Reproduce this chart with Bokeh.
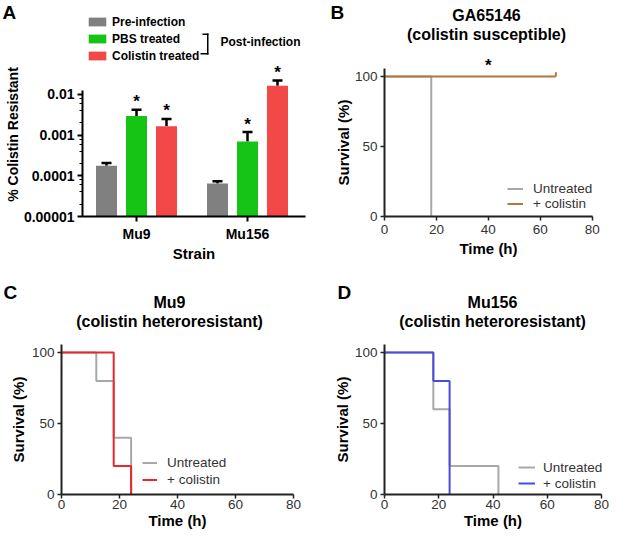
import math
from bokeh.plotting import figure
from bokeh.models import (Range1d, FixedTicker, NumeralTickFormatter, LogTicker, Label, Legend,
                          LegendItem, Whisker, TeeHead, ColumnDataSource, BoxAnnotation)
from bokeh.layouts import column, row
from bokeh.embed import file_html
from bokeh.resources import INLINE
from bokeh.core.properties import value

FONT = "Liberation Sans"

# ---------------- data ----------------
# Panel A: % colistin resistant (log scale)
strains = ["Mu9", "Mu156"]
group_names = ["Pre-infection", "PBS treated", "Colistin treated"]
pre_infection = [1.76e-4, 6.5e-5]
pbs_treated = [2.93e-3, 7.0e-4]
colistin_treated = [1.64e-3, 1.64e-2]
pre_infection_upper = [2.07e-4, 7.3e-5]
pbs_treated_upper = [4.2e-3, 1.19e-3]
colistin_treated_upper = [2.5e-3, 2.2e-2]
pre_infection_sig = [False, False]
pbs_treated_sig = [True, True]
colistin_treated_sig = [True, True]
bar_colors = ["#808080", "#16c416", "#f24848"]

# Panels B-D: Kaplan-Meier survival
time_ticks = [0, 20, 40, 60, 80]
survival_ticks = [0, 50, 100]
legend_labels = ["Untreated", "+ colistin"]

b_untreated_t = [0, 18]
b_untreated_s = [100, 0]
b_colistin_t = [0, 66]
b_colistin_s = [100, 100]
b_colistin_censored = [66]

c_untreated_t = [0, 12, 18, 24]
c_untreated_s = [100, 80, 40, 0]
c_colistin_t = [0, 18, 24]
c_colistin_s = [100, 20, 0]

d_untreated_t = [0, 18, 24, 42]
d_untreated_s = [100, 60, 20, 0]
d_colistin_t = [0, 18, 24]
d_colistin_s = [100, 80, 0]

titles = {
    "B": ["GA65146", "(colistin susceptible)"],
    "C": ["Mu9", "(colistin heteroresistant)"],
    "D": ["Mu156", "(colistin heteroresistant)"],
}

ROW1_H, ROW2_H = 266, 268
LEFT_W, RIGHT_W = 310, 299


def add_text(p, x, y, text, size, bold=True, align="center", baseline="middle", angle=0.0, color="black"):
    p.add_layout(Label(x=x, y=y, x_units="screen", y_units="screen", text=text,
                       text_font=FONT, text_font_size=size,
                       text_font_style="bold" if bold else "normal",
                       text_align=align, text_baseline=baseline, angle=angle,
                       text_color=color))


def base_fig(width, height, x_range, y_range, y_axis_type="linear"):
    p = figure(width=width, height=height, output_backend="svg", toolbar_location=None,
               title=None, x_range=x_range, y_range=y_range, y_axis_type=y_axis_type,
               min_border_left=0, min_border_right=0, min_border_top=0, min_border_bottom=0)
    p.outline_line_color = None
    p.xgrid.grid_line_color = None
    p.ygrid.grid_line_color = None
    p.background_fill_color = "white"
    p.border_fill_color = "white"
    return p


# ---------------- Panel A ----------------
a_px_per_group = 111.0
a_axis_x = 82          # pixel position of the y axis
a_axis_y = 216         # pixel position of the x axis (from top)
a_group1_x = 136
a_x0 = 1 - a_group1_x / a_px_per_group
a_x1 = a_x0 + LEFT_W / a_px_per_group
a_px_per_decade = 40.7
a_ybase = 1e-5
a_y0 = a_ybase * 10 ** (-(ROW1_H - a_axis_y) / a_px_per_decade)
a_y1 = a_ybase * 10 ** (a_axis_y / a_px_per_decade)
pA = base_fig(LEFT_W, ROW1_H, Range1d(a_x0, a_x1), Range1d(a_y0, a_y1), "log")

bar_off = 30 / a_px_per_group
bar_w = 21 / a_px_per_group
vals = [pre_infection, pbs_treated, colistin_treated]
uppers = [pre_infection_upper, pbs_treated_upper, colistin_treated_upper]
sigs = [pre_infection_sig, pbs_treated_sig, colistin_treated_sig]
bar_renderers = []
for j, (v, u, s, c) in enumerate(zip(vals, uppers, sigs, bar_colors)):
    xs = [i + 1 + (j - 1) * bar_off for i in range(len(strains))]
    src = ColumnDataSource(dict(x=xs, top=v, upper=u))
    r = pA.vbar(x="x", top="top", bottom=a_ybase, width=bar_w, source=src,
                fill_color=c, line_color=None)
    bar_renderers.append(r)
    pA.add_layout(Whisker(source=src, base="x", lower="top", upper="upper", dimension="height",
                          line_width=2.5, line_color="black",
                          upper_head=TeeHead(size=10, line_width=2.5, line_color="black"),
                          lower_head=None))
    sx = [x for x, flag in zip(xs, s) if flag]
    sy = [y for y, flag in zip(u, s) if flag]
    if sx:
        pA.text(x=sx, y=sy, text=["*"] * len(sx), text_font=value(FONT), text_font_style="bold",
                text_font_size="17px", text_align="center", text_baseline="alphabetic",
                y_offset=-8, text_color="black")

xa = pA.xaxis[0]
xa.fixed_location = a_ybase
xa.ticker = FixedTicker(ticks=[i + 1 for i in range(len(strains))])
xa.major_label_overrides = {i + 1: s for i, s in enumerate(strains)}
a_axis_xval = a_x0 + a_axis_x / a_px_per_group
xa.bounds = (a_axis_xval, a_x0 + 305 / a_px_per_group)
xa.axis_label = "Strain"
ya = pA.yaxis[0]
ya.fixed_location = a_axis_xval
ya.ticker = LogTicker(desired_num_ticks=7)
ya.formatter = NumeralTickFormatter(format="0.[00000]")
ya.bounds = (a_ybase, a_ybase * 10 ** (126 / a_px_per_decade))
for ax in pA.axis:
    ax.axis_line_width = 2
    ax.axis_line_color = "black"
    ax.major_tick_line_width = 2
    ax.major_tick_line_color = "black"
    ax.major_tick_out = 5
    ax.major_tick_in = 0
    ax.minor_tick_out = 3
    ax.minor_tick_in = 0
    ax.minor_tick_line_color = "black"
    ax.major_label_text_font = FONT
    ax.major_label_text_font_style = "bold"
    ax.major_label_text_font_size = "14px"
    ax.major_label_text_color = "black"
    ax.major_label_standoff = 3
    ax.axis_label_text_font = FONT
    ax.axis_label_text_font_style = "bold"
    ax.axis_label_text_font_size = "15px"
    ax.axis_label_text_color = "black"
    ax.axis_label_standoff = 0
xa.major_label_standoff = 4

legA = Legend(items=[LegendItem(label=n, renderers=[r]) for n, r in zip(group_names, bar_renderers)],
              location=(86, ROW1_H - 62.5), orientation="vertical", padding=0, margin=0, spacing=3,
              glyph_width=22, glyph_height=11, label_height=14, label_standoff=4,
              label_text_font=FONT, label_text_font_style="bold", label_text_font_size="12px",
              label_text_color="black", border_line_alpha=0, background_fill_alpha=0)
pA.add_layout(legA)
# bracket grouping the post-infection entries (pixel positions from the top-left)
for l, r, t, b in [(202, 208, 33, 34.5), (206.5, 208, 33, 54), (200, 208, 52.5, 54)]:
    pA.add_layout(BoxAnnotation(left=l, right=r, top=ROW1_H - t, bottom=ROW1_H - b,
                                left_units="screen", right_units="screen",
                                top_units="screen", bottom_units="screen",
                                fill_color="black", fill_alpha=1, line_color=None))
add_text(pA, 220, ROW1_H - 41, "Post-infection", "12px", align="left")
add_text(pA, 12, ROW1_H - 134, "% Colistin Resistant", "14px", angle=math.pi / 2)
add_text(pA, 2, ROW1_H - 1.5, "A", "19px", align="left", baseline="top")


# ---------------- survival panels ----------------
def survival_panel(width, height, axis_x, axis_y, px_per_h, px_per_pct,
                   curves, colors, leg_x, leg_bottom, leg_glyph_w, leg_row_h, leg_standoff,
                   title_lines, title_x, title_ys, letter, letter_x, letter_top,
                   ylabel_standoff, xlabel_standoff, xtick_standoff):
    x0 = -axis_x / px_per_h
    y0 = -(height - axis_y) / px_per_pct
    p = base_fig(width, height, Range1d(x0, x0 + width / px_per_h),
                 Range1d(y0, y0 + height / px_per_pct))
    rends = []
    for (t, s), c in zip(curves, colors):
        rends.append(p.step(t, s, mode="after", line_color=c, line_width=2))
    p.xaxis.fixed_location = 0
    p.yaxis.fixed_location = 0
    p.xaxis.ticker = FixedTicker(ticks=time_ticks)
    p.yaxis.ticker = FixedTicker(ticks=survival_ticks)
    p.xaxis.bounds = (time_ticks[0], time_ticks[-1])
    p.yaxis.bounds = (0, 105.5)
    p.xaxis.axis_label = "Time (h)"
    p.yaxis.axis_label = "Survival (%)"
    for ax in p.axis:
        ax.axis_line_width = 2
        ax.axis_line_color = "#222222"
        ax.major_tick_line_width = 1.5
        ax.major_tick_line_color = "#222222"
        ax.major_tick_out = 4
        ax.major_tick_in = 0
        ax.minor_tick_line_color = None
        ax.major_label_text_font = FONT
        ax.major_label_text_font_size = "13.5px"
        ax.major_label_text_color = "#333333"
        ax.major_label_standoff = 3
        ax.axis_label_text_font = FONT
        ax.axis_label_text_font_style = "bold"
        ax.axis_label_text_font_size = "15px"
        ax.axis_label_text_color = "black"
    p.yaxis.axis_label_standoff = ylabel_standoff
    p.xaxis.axis_label_standoff = xlabel_standoff
    p.xaxis.major_label_standoff = xtick_standoff
    leg = Legend(items=[LegendItem(label=n, renderers=[r]) for n, r in zip(legend_labels, rends)],
                 location=(leg_x, height - leg_bottom), orientation="vertical", padding=0, margin=0,
                 spacing=0, glyph_width=leg_glyph_w, glyph_height=leg_row_h, label_height=leg_row_h,
                 label_standoff=leg_standoff, label_text_font=FONT, label_text_font_size="13.5px",
                 label_text_color="#333333", border_line_alpha=0, background_fill_alpha=0)
    p.add_layout(leg)
    for line, y in zip(title_lines, title_ys):
        add_text(p, title_x, height - y, line, "16px")
    add_text(p, letter_x, height - letter_top, letter, "19px", align="left", baseline="top")
    return p, rends


pB, rB = survival_panel(RIGHT_W, ROW1_H, 74, 216, 207.7 / 80, 1.4,
                        [(b_untreated_t, b_untreated_s), (b_colistin_t, b_colistin_s)],
                        ["#a8a8a8", "#b07840"], 197, 210.5, 16, 15, 10,
                        titles["B"], 176, [15, 34], "B", 20, 1.5, 0, 3, 4)
# censored observation tick
pB.segment(x0=b_colistin_censored, y0=[b_colistin_s[-1]] * len(b_colistin_censored),
           x1=b_colistin_censored, y1=[b_colistin_s[-1] + 3] * len(b_colistin_censored),
           line_color="#b07840", line_width=2)
pB.text(x=[(time_ticks[0] + time_ticks[-1]) / 2], y=[max(b_colistin_s)], text=["*"],
        text_font=value(FONT), text_font_style="bold", text_font_size="17px",
        text_align="center", text_baseline="alphabetic", y_offset=-11, text_color="black")

pC, rC = survival_panel(LEFT_W, ROW2_H, 61, 228, 232 / 80, 1.42,
                        [(c_untreated_t, c_untreated_s), (c_colistin_t, c_colistin_s)],
                        ["#a8a8a8", "#e8282d"], 142, 222, 15, 17, 10,
                        titles["C"], 169, [36, 55], "C", 3, 15.5, 2, 0, 1)

pD, rD = survival_panel(RIGHT_W, ROW2_H, 74, 228, 217 / 80, 1.42,
                        [(d_untreated_t, d_untreated_s), (d_colistin_t, d_colistin_s)],
                        ["#a8a8a8", "#4b4bdc"], 208, 225, 17, 16, 8,
                        titles["D"], 182, [36, 55], "D", 27, 15.5, 1, 0, 1)

layout = column(row(pA, pB), row(pC, pD))
open("out.html", "w").write(file_html(layout, INLINE))
